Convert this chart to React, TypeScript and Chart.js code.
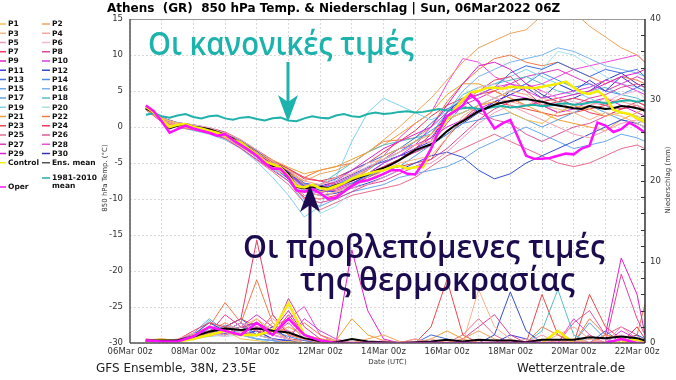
import React, { useEffect, useRef } from 'react';
import { Chart, registerables } from 'chart.js';
Chart.register(...registerables);

const TITLE = 'Athens  (GR)  850 hPa Temp. & Niederschlag | Sun, 06Mar2022 06Z';
const FOOTER_LEFT = 'GFS Ensemble, 38N, 23.5E';
const FOOTER_RIGHT = 'Wetterzentrale.de';
const X_TITLE = 'Date (UTC)';
const Y_LEFT_TITLE = '850 hPa Temp. (°C)';
const Y_RIGHT_TITLE = 'Niederschlag (mm)';
const NOTE_NORMAL = 'Οι κανονικές τιμές';
const NOTE_FORECAST_1 = 'Οι προβλεπόμενες τιμές';
const NOTE_FORECAST_2 = 'της θερμοκρασίας';

const X_TICK_HOURS = [0, 48, 96, 144, 192, 240, 288, 336, 384];
const X_TICK_LABELS = ['06Mar 00z', '08Mar 00z', '10Mar 00z', '12Mar 00z', '14Mar 00z', '16Mar 00z', '18Mar 00z', '20Mar 00z', '22Mar 00z'];
const PRECIP_MINOR_TICKS = [2, 4, 6, 8, 10, 12, 14, 16, 18, 20, 22, 24, 26, 28, 30, 32, 34, 36, 38];

// hours since 06Mar 00z
const HOURS_6H = [12, 18, 24, 30, 36, 42, 48, 54, 60, 66, 72, 78, 84, 90, 96, 102, 108, 114, 120, 126, 132, 138, 144, 150, 156, 162, 168, 174, 180, 186, 192, 198, 204, 210, 216, 222, 228, 234, 240, 246, 252, 258, 264, 270, 276, 282, 288, 294, 300, 306, 312, 318, 324, 330, 336, 342, 348, 354, 360, 366, 372, 378, 384, 390];
const HOURS_12H = [12, 24, 36, 48, 60, 72, 84, 96, 108, 120, 132, 144, 156, 168, 180, 192, 204, 216, 228, 240, 252, 264, 276, 288, 300, 312, 324, 336, 348, 360, 372, 384, 390];

const ENS_MEAN_T = [2.6, 2.0, 1.0, -0.2, 0.2, 0.4, 0.0, -0.1, -0.3, -0.7, -1.1, -1.6, -2.3, -2.9, -3.8, -5.0, -5.4, -5.5, -6.5, -8.3, -8.5, -8.4, -8.3, -8.5, -8.1, -7.8, -7.4, -7.0, -6.6, -6.1, -5.7, -5.2, -4.6, -3.9, -3.2, -2.8, -2.4, -1.6, -0.6, 0.2, 0.8, 1.5, 2.2, 2.6, 3.1, 3.4, 3.6, 3.8, 3.9, 3.7, 3.5, 3.2, 3.0, 2.8, 2.6, 2.5, 2.9, 2.7, 2.5, 2.6, 2.9, 2.8, 2.6, 2.3];
const CLIM_T = [1.7, 1.9, 1.5, 1.3, 1.6, 1.8, 1.4, 1.2, 1.5, 1.6, 1.2, 1.0, 1.3, 1.4, 1.1, 0.9, 1.2, 1.3, 0.9, 0.8, 1.2, 1.5, 1.3, 1.2, 1.6, 1.8, 1.5, 1.4, 1.8, 2.0, 1.8, 1.9, 2.1, 2.2, 2.0, 2.1, 2.3, 2.5, 2.3, 2.4, 2.6, 2.7, 2.5, 2.6, 2.8, 2.9, 2.7, 2.8, 3.0, 3.1, 2.9, 3.0, 3.2, 3.3, 3.1, 3.2, 3.4, 3.5, 3.3, 3.4, 3.6, 3.7, 3.5, 3.7];
const OPER_T = [3.0, 2.2, 0.8, -0.8, -0.3, 0.2, -0.2, -0.5, -0.8, -1.2, -1.0, -1.8, -2.5, -3.2, -4.0, -5.0, -5.8, -5.8, -7.0, -8.8, -9.0, -8.6, -9.2, -10.0, -9.8, -9.0, -8.2, -7.6, -7.4, -7.0, -6.5, -6.0, -6.0, -6.5, -6.6, -5.0, -3.0, -0.5, 1.5, 2.2, 3.0, 4.5, 3.5, 1.5, -0.2, 0.5, 1.0, -1.5, -4.0, -4.4, -4.4, -4.3, -4.0, -3.7, -3.8, -3.0, -2.6, 0.6, 0.2, -0.7, -0.3, 0.6, 0.0, -0.8];
const CONTROL_T = [2.8, 2.0, 1.0, 0.0, 0.3, 0.4, 0.0, -0.2, -0.5, -0.8, -1.2, -1.8, -2.2, -3.0, -3.8, -4.8, -5.2, -5.6, -6.8, -8.2, -8.4, -8.0, -8.5, -8.6, -8.2, -7.8, -7.2, -6.8, -6.5, -6.2, -6.0, -5.6, -5.4, -5.8, -5.6, -5.6, -3.0, -0.5, 1.0, 2.5, 3.8, 4.8, 5.0, 5.4, 5.5, 5.3, 5.6, 5.5, 5.5, 5.4, 5.6, 5.8, 6.0, 6.3, 5.5, 4.8, 4.6, 5.0, 4.2, 2.4, 2.0, 1.8, 1.2, 0.7];

const P1_T = [2.7, 1.2, 0.5, 0.2, -0.6, -1.0, -2.0, -3.5, -5.0, -6.0, -8.0, -9.0, -8.5, -7.0, -6.0, -4.0, -3.0, -2.0, -1.0, 1.0, 2.0, 3.0, 3.5, 2.0, 1.0, 0.5, 2.0, 3.0, 2.5, 1.5, 2.0, 1.5, 1.0];
const P2_T = [2.5, 0.8, 0.0, -0.3, -0.5, -1.2, -2.5, -4.0, -5.5, -6.5, -7.5, -6.5, -6.0, -5.0, -3.5, -1.8, 0.0, 2.0, 4.0, 6.5, 9.0, 11.0, 12.0, 13.0, 13.5, 15.5, 17.0, 16.0, 14.0, 12.5, 11.0, 10.0, 9.0];
const P3_T = [2.4, 1.0, 0.3, 0.0, -0.2, -1.5, -2.8, -4.2, -5.5, -7.0, -9.0, -9.5, -9.0, -8.0, -7.5, -6.0, -5.0, -4.5, -4.0, -1.5, 1.5, 3.0, 4.0, 5.0, 4.5, 3.0, 2.5, 2.0, 1.0, 2.0, 1.5, 0.5, 0.0];
const P4_T = [2.6, 1.1, 0.6, 0.1, -0.4, -0.8, -1.8, -3.2, -4.8, -6.0, -7.5, -8.0, -7.0, -6.5, -5.0, -4.5, -3.5, -2.5, -2.0, 1.0, 3.5, 5.0, 4.0, 3.5, 3.0, 4.0, 3.5, 2.5, 3.0, 4.0, 3.5, 3.0, 2.5];
const P5_T = [2.5, 0.9, 0.1, -0.2, -0.7, -1.4, -2.6, -4.0, -5.2, -7.0, -9.5, -10.0, -9.0, -8.5, -8.0, -7.0, -6.0, -5.5, -5.0, -3.5, -1.5, 0.5, 2.0, 3.0, 2.0, 1.0, 0.0, -1.0, -1.5, -0.5, 0.5, 1.0, 0.5];
const P6_T = [2.7, 1.3, 0.4, 0.3, -0.1, -0.9, -2.2, -3.6, -5.6, -6.8, -8.6, -8.0, -7.5, -6.5, -5.5, -4.5, -3.5, -2.5, -2.0, 1.0, 3.5, 5.5, 6.0, 5.0, 4.5, 5.0, 4.0, 3.5, 3.0, 3.5, 4.5, 5.0, 4.0];
const P7_T = [2.8, 1.4, 0.2, 0.0, -0.5, -1.3, -2.5, -3.8, -4.8, -5.8, -7.0, -7.5, -8.0, -7.5, -6.5, -5.5, -4.5, -3.0, -1.0, 1.5, 3.5, 5.0, 6.5, 7.0, 5.0, 3.0, 3.5, 4.0, 3.5, 3.0, 2.5, 3.5, 3.0];
const P8_T = [2.4, 0.7, 0.0, -0.4, -0.9, -1.6, -3.0, -4.5, -6.0, -7.5, -10.0, -10.5, -10.0, -9.0, -8.0, -7.5, -6.5, -5.5, -4.5, -3.0, -1.0, 1.0, 2.5, 3.5, 4.0, 3.0, 2.0, 3.0, 4.0, 4.5, 5.5, 6.0, 5.5];
const P9_T = [2.6, 1.0, 0.5, 0.2, -0.3, -1.1, -2.2, -3.5, -5.2, -6.2, -8.0, -8.5, -7.5, -6.0, -4.5, -3.0, -2.0, -1.0, 0.0, 3.0, 6.0, 8.5, 9.0, 8.0, 6.0, 5.0, 4.0, 4.5, 5.0, 6.0, 7.0, 7.5, 8.0];
const P10_T = [2.5, 0.9, 0.2, -0.1, -0.6, -1.2, -2.4, -3.8, -5.0, -6.5, -8.5, -9.0, -8.5, -7.5, -6.5, -5.0, -4.0, -2.5, 0.0, 2.0, 3.5, 4.5, 5.5, 6.0, 5.0, 4.0, 4.5, 5.0, 5.5, 6.5, 6.0, 5.0, 4.5];
const P11_T = [2.7, 1.2, 0.3, 0.0, -0.4, -1.0, -2.0, -3.4, -5.0, -6.4, -8.0, -8.8, -9.0, -8.0, -6.5, -5.0, -4.0, -3.0, -2.0, 2.0, 4.0, 2.0, 3.5, 4.5, 5.5, 4.0, 6.0, 5.0, 6.5, 5.0, 7.0, 5.5, 6.0];
const P12_T = [2.6, 1.1, 0.4, -0.2, -0.8, -1.5, -2.7, -4.1, -5.4, -7.2, -9.0, -9.5, -9.2, -8.5, -7.8, -7.0, -6.0, -5.0, -4.0, -3.5, -4.2, -6.0, -7.2, -6.5, -5.0, -4.0, -3.0, -2.0, -1.0, 0.0, 1.0, 0.5, 0.0];
const P13_T = [2.5, 1.0, 0.1, 0.1, -0.3, -1.1, -2.3, -3.7, -5.3, -6.6, -8.2, -8.0, -7.2, -6.0, -5.0, -4.0, -3.0, -1.5, 0.5, 2.5, 3.5, 4.5, 5.5, 7.5, 8.5, 8.0, 9.0, 8.0, 7.0, 8.0, 7.5, 8.0, 7.0];
const P14_T = [2.8, 1.3, 0.6, 0.3, -0.2, -0.8, -1.9, -3.3, -4.9, -6.2, -7.8, -8.5, -8.0, -7.0, -6.0, -4.5, -3.5, -2.0, -0.5, 1.0, 2.0, 3.0, 4.0, 5.0, 6.0, 7.5, 6.5, 5.5, 6.0, 5.0, 4.5, 5.5, 5.0];
const P15_T = [2.4, 0.8, 0.0, -0.3, -0.7, -1.4, -2.6, -4.3, -5.8, -7.5, -10.5, -11.0, -10.0, -9.0, -8.5, -8.0, -7.0, -6.5, -6.0, -5.5, -4.5, -3.0, -2.0, -1.0, 0.0, -1.0, -2.0, -3.0, -2.5, -2.0, -1.0, -1.5, -2.0];
const P16_T = [2.6, 1.1, 0.3, 0.0, -0.5, -1.2, -2.4, -3.9, -5.4, -6.8, -8.8, -9.0, -8.0, -7.0, -5.5, -4.5, -3.5, -2.0, -1.0, 2.0, 5.0, 7.0, 8.0, 9.0, 9.5, 10.0, 11.0, 10.5, 9.5, 8.5, 8.0, 7.5, 7.0];
const P17_T = [2.7, 1.2, 0.4, 0.1, -0.3, -1.0, -2.1, -3.6, -5.1, -6.3, -8.4, -8.8, -8.2, -7.8, -6.8, -6.0, -5.5, -4.0, -2.5, -1.0, 0.5, 1.0, 1.5, 2.0, 1.0, 0.0, 1.0, 2.0, 3.0, 2.0, 1.0, 0.5, 1.0];
const P18_T = [2.5, 0.9, 0.1, -0.2, -0.6, -1.3, -2.5, -4.0, -5.5, -7.0, -9.0, -8.0, -6.5, -5.0, -3.5, -2.5, -2.0, -1.5, -1.0, 2.0, 4.5, 5.5, 6.0, 6.5, 7.0, 6.0, 5.0, 4.5, 5.0, 5.5, 4.5, 4.0, 3.5];
const P19_T = [2.6, 1.0, 0.0, -0.5, -1.0, -1.8, -3.0, -4.8, -7.0, -9.5, -12.5, -11.0, -7.0, -2.0, 2.0, 4.0, 3.0, 2.0, 1.0, 2.0, 3.5, 5.0, 6.0, 7.0, 8.0, 7.0, 6.0, 5.0, 4.0, 3.0, 2.0, 1.5, 1.0];
const P20_T = [2.5, 1.0, 0.3, 0.0, -0.4, -1.2, -2.3, -3.9, -5.6, -7.2, -9.5, -12.0, -11.0, -9.0, -7.0, -5.0, -3.5, -2.0, 0.0, 1.5, 2.0, 3.0, 4.0, 5.0, 6.0, 8.0, 10.5, 10.0, 8.5, 7.0, 6.0, 5.5, 5.0];
const P21_T = [2.7, 1.2, 0.5, 0.2, -0.2, -0.9, -2.0, -3.4, -4.6, -5.6, -6.5, -6.0, -5.5, -4.5, -3.5, -2.5, -1.0, 0.5, 2.0, 4.5, 6.0, 6.0, 5.0, 4.0, 3.0, 2.0, 1.0, 0.5, 0.0, -0.5, 1.0, 2.0, 2.5];
const P22_T = [2.6, 1.1, 0.4, 0.0, -0.5, -1.3, -2.5, -3.8, -5.0, -6.0, -7.0, -6.0, -5.5, -5.0, -3.5, -2.0, -1.8, -1.5, 0.0, 3.5, 6.0, 8.0, 9.5, 10.0, 9.0, 8.5, 9.0, 8.0, 7.0, 6.0, 7.0, 6.5, 6.0];
const P23_T = [2.5, 0.9, 0.2, -0.1, -0.6, -1.3, -2.6, -4.1, -5.6, -7.2, -9.8, -10.0, -9.5, -8.0, -7.0, -6.0, -5.5, -5.0, -4.5, -1.5, 1.0, 3.0, 3.5, 3.0, 2.5, 2.0, 1.5, 2.0, 2.5, 3.0, 4.0, 3.5, 3.0];
const P24_T = [2.8, 1.3, 0.6, 0.3, -0.1, -0.7, -1.8, -3.2, -4.6, -5.8, -7.2, -7.5, -7.0, -6.0, -5.0, -3.5, -2.0, -0.5, 1.5, 3.0, 4.0, 4.5, 5.0, 4.0, 3.0, 3.5, 4.0, 3.0, 2.0, 1.5, 2.5, 3.0, 2.5];
const P25_T = [2.4, 0.8, 0.0, -0.4, -0.9, -1.6, -2.9, -4.6, -6.2, -8.0, -10.5, -11.5, -10.5, -9.5, -9.0, -8.5, -8.0, -7.0, -5.5, -4.0, -3.0, -2.0, -1.0, -2.0, -3.0, -4.0, -5.0, -5.5, -5.0, -4.0, -3.0, -2.5, -3.0];
const P26_T = [2.6, 1.0, 0.2, 0.0, -0.5, -1.2, -2.4, -3.9, -5.3, -6.7, -8.6, -9.0, -8.8, -8.0, -7.0, -6.0, -4.5, -3.5, -2.5, 0.5, 3.0, 2.0, 1.0, 0.5, -1.0, -2.0, -1.0, 0.0, 0.5, 1.5, 2.5, 3.0, 2.0];
const P27_T = [2.7, 1.2, 0.4, 0.1, -0.4, -1.0, -2.1, -3.5, -5.0, -6.4, -8.2, -8.5, -7.8, -6.8, -5.8, -4.5, -3.0, -2.5, -1.5, 1.5, 3.0, 4.0, 5.0, 6.0, 7.0, 7.5, 8.0, 7.0, 6.0, 5.0, 6.0, 7.0, 6.5];
const P28_T = [2.5, 0.9, 0.1, -0.1, -0.6, -1.3, -2.5, -4.0, -5.5, -7.0, -8.8, -9.2, -8.5, -7.5, -6.0, -4.0, -1.5, 0.5, 2.0, 6.0, 9.5, 9.0, 7.0, 6.0, 5.5, 6.0, 7.0, 8.0, 8.5, 9.0, 9.5, 10.0, 9.0];
const P29_T = [2.6, 1.1, 0.3, 0.0, -0.4, -1.1, -2.3, -3.7, -5.2, -6.5, -8.4, -9.0, -8.6, -7.8, -6.8, -5.5, -4.5, -3.0, -1.5, 0.0, 1.0, 2.5, 3.5, 4.5, 4.0, 3.0, 2.0, 2.5, 3.5, 4.0, 3.0, 2.0, 1.5];
const P30_T = [2.7, 1.3, 0.5, 0.2, -0.2, -0.9, -2.0, -3.4, -4.9, -6.1, -7.8, -8.2, -7.6, -6.6, -5.6, -4.8, -4.0, -3.5, -2.5, -1.0, 0.5, 2.0, 3.0, 5.0, 6.0, 4.5, 3.5, 4.0, 5.0, 6.5, 7.5, 6.0, 5.5];

const P1_P = [0.3, 0.5, 0.2, 1.0, 0.8, 1.5, 0.5, 0.3, 0, 0.2, 0, 0, 0, 0.5, 0, 0, 0, 0, 0, 0.3, 0, 0, 0, 0, 0, 0, 0, 0.5, 0, 0, 0.3, 0, 0];
const P2_P = [0.2, 0.4, 0.3, 0.5, 1.2, 2.0, 1.5, 0.8, 2.5, 1.0, 0.5, 0.3, 0, 0, 0.5, 1.0, 0.2, 0, 0, 0, 0.5, 1.5, 0.5, 0, 0, 0, 0.3, 0, 0, 1.0, 0.5, 0.3, 0];
const P3_P = [0.4, 0.3, 0.2, 0.8, 1.5, 1.0, 2.0, 3.0, 1.5, 0.5, 0, 0, 0, 0, 0, 0, 0, 0.5, 0, 0, 0, 6.6, 2.0, 0.5, 0, 0, 0, 0, 0.5, 0, 0, 0, 0];
const P4_P = [0.3, 0.2, 0.5, 1.2, 0.8, 2.5, 1.5, 1.0, 0.5, 0, 0, 0, 0.5, 0, 0, 0, 0, 0, 0.5, 0, 0, 0, 0, 0, 0.5, 0, 1.0, 2.0, 0.5, 0, 0, 0.5, 0];
const P5_P = [0.2, 0.5, 0.3, 1.0, 2.0, 1.5, 2.5, 1.5, 3.0, 1.5, 0.5, 0, 0, 0, 0, 0.3, 0, 0, 0, 0, 0, 0, 0, 0.5, 0, 1.0, 0, 0, 0, 0, 2.0, 0.5, 0];
const P6_P = [0.3, 0.4, 0.2, 0.5, 1.0, 0.8, 1.5, 2.0, 1.0, 0.5, 0, 0, 0, 0, 0, 0, 0, 0, 0, 0, 0, 0, 0, 0, 0, 0, 0, 0, 0, 0.5, 1.0, 0.5, 0];
const P7_P = [0.5, 0.3, 0.4, 1.5, 2.5, 2.0, 3.0, 12.7, 3.5, 1.0, 0.5, 0, 0, 0, 0, 0, 0, 0.5, 0, 0, 0, 0, 0, 0, 0, 0, 0, 0, 0, 0, 0, 0, 0];
const P8_P = [0.2, 0.3, 0.2, 0.8, 1.2, 3.5, 2.0, 1.5, 1.0, 5.5, 2.0, 0.5, 0, 0, 0, 0, 0, 0, 0, 0, 0.5, 2.0, 3.5, 1.0, 0, 0, 0, 0, 0, 0, 8.5, 3.0, 1.0];
const P9_P = [0.3, 0.2, 0.3, 1.0, 1.5, 1.0, 2.0, 2.5, 1.5, 4.0, 1.0, 0.3, 0, 11.5, 4.0, 0.5, 0, 0, 0, 0, 0, 0, 0, 0, 0, 0, 0, 0, 0, 1.0, 10.5, 6.0, 1.0];
const P10_P = [0.2, 0.4, 0.3, 0.6, 1.0, 1.5, 1.2, 2.0, 1.0, 0.5, 3.0, 1.5, 0.5, 0, 0, 0, 0, 0, 0, 0, 0, 0, 0, 0, 0, 0, 0, 0, 0, 0, 1.5, 0.5, 0];
const P11_P = [0.3, 0.3, 0.2, 0.5, 1.5, 2.0, 1.0, 1.5, 0.5, 0.3, 0, 0, 0, 0, 0, 0, 0, 0, 0, 0, 0, 0, 0, 1.0, 0.5, 0, 0, 0, 0, 0, 0, 0, 0];
const P12_P = [0.2, 0.3, 0.4, 1.0, 2.5, 1.5, 2.5, 1.0, 2.0, 0.5, 0, 0, 0, 0, 0, 0, 0, 0, 0, 0, 0, 0, 1.0, 6.3, 1.5, 0, 0, 0, 0, 0, 0, 1.0, 0.5];
const P13_P = [0.4, 0.2, 0.3, 0.8, 1.0, 2.0, 3.0, 1.5, 0.5, 0.3, 0, 0, 0, 0, 0, 0, 0, 0, 1.0, 0.5, 0, 0, 0, 0, 0, 0, 0, 0, 0, 1.5, 0, 0, 0];
const P14_P = [0.3, 0.4, 0.2, 0.5, 1.8, 1.0, 2.0, 2.5, 1.5, 0.8, 0.3, 0, 0, 0, 0, 0, 0, 0, 0, 0, 0, 0, 0, 0, 0, 0, 0, 0, 0, 0, 0, 0, 0];
const P15_P = [0.2, 0.3, 0.3, 1.2, 3.0, 1.5, 1.0, 0.5, 0.3, 0, 0, 0, 0, 0, 0, 0, 0, 0, 0, 0, 0, 0, 0, 0, 0, 0, 0, 0, 0.5, 0, 0, 0, 0];
const P16_P = [0.3, 0.2, 0.4, 1.0, 1.2, 2.2, 1.5, 1.0, 0.5, 0.2, 0, 0, 0, 0, 0, 0, 0, 0, 0, 0, 0, 0, 0, 0, 0, 0, 0, 0, 0, 0, 0, 0, 0];
const P17_P = [0.2, 0.4, 0.2, 0.6, 1.0, 1.5, 2.0, 1.0, 0.5, 0, 0, 0, 0, 0, 0, 0, 0, 0, 0, 0, 0, 0, 0, 0, 0, 0, 0, 0, 2.5, 0.5, 0, 0, 0];
const P18_P = [0.3, 0.3, 0.3, 0.8, 2.8, 1.0, 1.5, 1.0, 0.5, 0.3, 0, 0, 0, 0, 0, 0, 0, 0, 0, 0, 0, 0, 0, 0, 0, 1.5, 6.6, 1.0, 0, 0, 0, 0, 0];
const P19_P = [0.2, 0.2, 0.2, 0.5, 0.8, 1.0, 1.5, 0.5, 0.3, 0, 0, 0, 0, 0, 0, 0, 0, 0, 0, 0, 0, 0, 0, 0, 0, 0, 0, 0, 0, 0, 0, 0, 0];
const P20_P = [0.3, 0.3, 0.2, 0.6, 1.2, 0.8, 1.0, 0.5, 0, 0, 0, 0, 0, 0, 0, 0, 0, 0, 0, 0, 0, 0, 0, 0, 0, 0, 0, 0, 0, 0, 0, 0, 0];
const P21_P = [0.4, 0.5, 0.3, 1.0, 1.5, 2.5, 1.5, 3.0, 1.0, 2.0, 1.0, 0.5, 0.3, 3.0, 1.0, 0.3, 0, 0, 0.5, 1.5, 0.5, 0, 0, 0, 0, 0, 0, 0, 0, 0, 0, 0, 0];
const P22_P = [0.3, 0.4, 0.4, 1.2, 2.0, 5.0, 2.5, 7.8, 2.5, 1.0, 2.5, 1.0, 0.3, 0, 0, 0, 0, 0, 0, 0, 0, 0, 0, 0, 0, 2.0, 1.0, 0, 3.0, 1.0, 0.5, 1.0, 4.8];
const P23_P = [0.2, 0.3, 0.3, 0.8, 1.0, 2.0, 3.0, 2.0, 1.5, 0.5, 0.3, 0, 0, 0, 0, 0, 0, 0, 2.0, 7.8, 1.0, 0, 0, 0, 0, 6.0, 1.0, 0, 6.0, 2.0, 0.5, 0, 0];
const P24_P = [0.3, 0.2, 0.2, 1.0, 1.5, 1.5, 2.0, 2.5, 1.0, 3.5, 1.0, 0.5, 0, 0, 0, 0, 0, 0, 0, 0, 0, 0, 0, 0, 0, 0, 0, 0, 0, 0, 0, 2.0, 0.5];
const P25_P = [0.2, 0.4, 0.3, 0.8, 1.2, 2.2, 1.5, 1.0, 3.5, 1.0, 0.5, 0, 0, 0, 0, 0, 0, 0, 0, 0, 1.0, 3.0, 1.0, 0, 0, 0, 0, 0, 1.0, 0, 0, 0, 0];
const P26_P = [0.3, 0.3, 0.2, 0.5, 1.0, 1.5, 2.5, 1.5, 1.0, 2.5, 0.5, 0, 0, 0, 0, 0, 0, 0, 0, 0, 0, 0, 0, 0, 0, 0, 0, 2.5, 4.0, 1.0, 2.0, 1.0, 0];
const P27_P = [0.2, 0.2, 0.3, 0.6, 1.5, 1.0, 2.0, 3.5, 2.0, 1.5, 0.5, 0, 0, 0, 0, 0, 0, 0, 0, 0, 0, 0, 0, 0, 0, 0, 0, 0, 0, 0, 0, 0, 0];
const P28_P = [0.3, 0.3, 0.3, 1.0, 1.0, 1.8, 1.5, 1.0, 2.0, 3.0, 4.5, 1.0, 0, 0, 0, 0, 0, 0, 0, 0, 0, 0, 0, 0, 0, 0, 0, 3.0, 1.0, 0, 0, 0, 0];
const P29_P = [0.2, 0.3, 0.2, 0.7, 1.2, 2.0, 1.5, 2.0, 1.0, 0.5, 0, 0, 0, 0, 0, 0, 0, 0, 0, 0, 0, 0, 0, 0, 0, 0, 0, 0, 0, 0, 0, 0, 0];
const P30_P = [0.3, 0.2, 0.3, 0.5, 1.0, 1.2, 1.0, 0.5, 0.3, 0, 0, 0, 0, 0, 0, 0, 0, 0, 0, 0, 0, 0, 0, 0, 0, 0, 0, 0, 0, 0, 0, 0, 0];
const CONTROL_P = [0.2, 0.3, 0.2, 0.5, 1.0, 1.5, 1.0, 1.0, 1.5, 4.9, 1.0, 0.3, 0, 0, 0, 0, 0, 0, 0, 0, 0, 0, 0, 0, 0, 0, 1.5, 0, 0, 0, 0, 0.5, 0];
const OPER_P = [0.3, 0.2, 0.2, 0.8, 2.0, 1.5, 1.0, 2.5, 1.0, 3.0, 1.0, 0.3, 0, 0, 0, 0, 0, 0, 0, 0, 0, 0, 0, 0, 0, 0, 0, 0, 0, 0, 0.5, 0, 0];
const ENS_MEAN_P = [0.3, 0.3, 0.3, 0.8, 1.4, 1.8, 1.6, 1.8, 1.5, 1.3, 0.6, 0.2, 0.1, 0.5, 0.2, 0.1, 0, 0.1, 0.2, 0.4, 0.2, 0.4, 0.3, 0.3, 0.1, 0.4, 0.4, 0.4, 0.7, 0.6, 0.8, 0.6, 0.3];

const MEMBER_NAMES = ['P1', 'P2', 'P3', 'P4', 'P5', 'P6', 'P7', 'P8', 'P9', 'P10', 'P11', 'P12', 'P13', 'P14', 'P15', 'P16', 'P17', 'P18', 'P19', 'P20', 'P21', 'P22', 'P23', 'P24', 'P25', 'P26', 'P27', 'P28', 'P29', 'P30'];
const MEMBER_COLORS = ['#f2c14e', '#f0a35a', '#f7b28a', '#f4a5a0', '#f29ab5', '#f2b8d8', '#ee3d6a', '#e0449c', '#e21fc6', '#d43ee0', '#3b3bdb', '#2f4fd0', '#3f6fe0', '#4a8ef0', '#6aa6ee', '#7ab4ec', '#5aa0e0', '#56bfc4', '#7fd0ee', '#a4e2e6', '#f0a030', '#f07a48', '#ee4848', '#f0385a', '#e86a8c', '#e0589e', '#e038c0', '#f04ad8', '#d51fd6', '#3434b4'];
const MEMBER_T = [P1_T, P2_T, P3_T, P4_T, P5_T, P6_T, P7_T, P8_T, P9_T, P10_T, P11_T, P12_T, P13_T, P14_T, P15_T, P16_T, P17_T, P18_T, P19_T, P20_T, P21_T, P22_T, P23_T, P24_T, P25_T, P26_T, P27_T, P28_T, P29_T, P30_T];
const MEMBER_P = [P1_P, P2_P, P3_P, P4_P, P5_P, P6_P, P7_P, P8_P, P9_P, P10_P, P11_P, P12_P, P13_P, P14_P, P15_P, P16_P, P17_P, P18_P, P19_P, P20_P, P21_P, P22_P, P23_P, P24_P, P25_P, P26_P, P27_P, P28_P, P29_P, P30_P];

const CONTROL_COLOR = '#f5ee00';
const MEAN_COLOR = '#000000';
const CLIM_COLOR = '#1fb2aa';
const OPER_COLOR = '#ff10ff';
const NOTE_TEAL = '#1db3ad';
const NOTE_DARK = '#1d0b4f';

const pts = (hours: number[], vals: number[]) => vals.map((v, i) => ({ x: hours[i], y: v }));

function line(ctx: CanvasRenderingContext2D, x1: number, y1: number, x2: number, y2: number) {
  ctx.beginPath();
  ctx.moveTo(x1, y1);
  ctx.lineTo(x2, y2);
  ctx.stroke();
}

function arrow(ctx: CanvasRenderingContext2D, x: number, yTail: number, yTip: number, color: string) {
  const dir = Math.sign(yTip - yTail);
  const headLen = 27, halfW = 10, notch = 7;
  ctx.strokeStyle = color;
  ctx.lineWidth = 3;
  line(ctx, x, yTail, x, yTip - dir * (headLen - notch));
  ctx.fillStyle = color;
  ctx.beginPath();
  ctx.moveTo(x, yTip);
  ctx.lineTo(x - halfW, yTip - dir * headLen);
  ctx.lineTo(x, yTip - dir * (headLen - notch));
  ctx.lineTo(x + halfW, yTip - dir * headLen);
  ctx.closePath();
  ctx.fill();
}

const overlay = {
  id: 'overlay',
  afterDatasetsDraw(chart: any) {
    const ctx: CanvasRenderingContext2D = chart.ctx;
    const a = chart.chartArea;
    const yP = chart.scales.yP;
    ctx.save();
    ctx.strokeStyle = '#999';
    ctx.lineWidth = 1;
    line(ctx, a.left, a.top + 0.5, a.right, a.top + 0.5);
    ctx.strokeStyle = '#555';
    ctx.lineWidth = 1.5;
    line(ctx, a.left, a.top, a.left, a.bottom);
    line(ctx, a.left, a.bottom, a.right, a.bottom);
    ctx.strokeStyle = '#333';
    line(ctx, a.right, a.top, a.right, a.bottom);
    ctx.lineWidth = 1;
    for (const v of PRECIP_MINOR_TICKS) {
      const y = Math.round(yP.getPixelForValue(v)) + 0.5;
      line(ctx, a.right - 4, y, a.right, y);
    }
    ctx.restore();
  },
  afterDraw(chart: any) {
    const ctx: CanvasRenderingContext2D = chart.ctx;
    const a = chart.chartArea;
    ctx.save();
    ctx.textAlign = 'left';
    ctx.textBaseline = 'alphabetic';
    ctx.fillStyle = '#000';
    ctx.font = 'bold 12px "DejaVu Sans"';
    ctx.fillText(TITLE, 107, 12);

    ctx.font = '12px "DejaVu Sans"';
    ctx.fillStyle = '#222';
    ctx.fillText(FOOTER_LEFT, 96, 372);
    ctx.fillText(FOOTER_RIGHT, 517, 372);

    ctx.font = '7px "DejaVu Sans"';
    ctx.fillStyle = '#333';
    ctx.textAlign = 'center';
    ctx.fillText(X_TITLE, (a.left + a.right) / 2, 364);
    ctx.textBaseline = 'middle';
    ctx.save();
    ctx.translate(105, 178);
    ctx.rotate(-Math.PI / 2);
    ctx.fillText(Y_LEFT_TITLE, 0, 0);
    ctx.restore();
    ctx.save();
    ctx.translate(668, 180);
    ctx.rotate(-Math.PI / 2);
    ctx.fillText(Y_RIGHT_TITLE, 0, 0);
    ctx.restore();

    // legend
    ctx.textAlign = 'left';
    ctx.textBaseline = 'middle';
    ctx.font = 'bold 7.5px "DejaVu Sans"';
    const rowY = (k: number) => 24 + k * 9.25;
    const entry = (x: number, y: number, color: string, label: string) => {
      ctx.strokeStyle = color;
      ctx.lineWidth = 1.5;
      line(ctx, x, y, x + 8, y);
      ctx.fillStyle = '#111';
      ctx.fillText(label, x + 10, y + 0.5);
    };
    for (let k = 0; k < 15; k++) {
      entry(-2, rowY(k), MEMBER_COLORS[2 * k], MEMBER_NAMES[2 * k]);
      entry(42, rowY(k), MEMBER_COLORS[2 * k + 1], MEMBER_NAMES[2 * k + 1]);
    }
    entry(-2, rowY(15), CONTROL_COLOR, 'Control');
    entry(42, rowY(15), '#555', 'Ens. mean');
    entry(42, 178, CLIM_COLOR, '1981-2010');
    ctx.fillText('mean', 52, 186.5);
    entry(-2, 187, OPER_COLOR, 'Oper');

    // annotations
    ctx.textBaseline = 'alphabetic';
    ctx.font = '600 32px "Open Sans"';
    ctx.fillStyle = NOTE_TEAL;
    ctx.fillText(NOTE_NORMAL, 148, 55, 266);
    arrow(ctx, 288, 62, 122, NOTE_TEAL);
    ctx.fillStyle = NOTE_DARK;
    ctx.fillText(NOTE_FORECAST_1, 243, 258, 362);
    ctx.fillText(NOTE_FORECAST_2, 300, 291, 275);
    arrow(ctx, 310, 238, 185, NOTE_DARK);
    ctx.restore();
  },
};

export default function App() {
  const ref = useRef<HTMLCanvasElement>(null);
  useEffect(() => {
    const datasets: any[] = [];
    const add = (data: any[], color: string, width: number, axis: string) =>
      datasets.push({ data, borderColor: color, borderWidth: width, yAxisID: axis, pointRadius: 0, tension: 0, fill: false });
    add(pts(HOURS_6H, OPER_T), OPER_COLOR, 2.5, 'yT');
    add(pts(HOURS_6H, CONTROL_T), CONTROL_COLOR, 2.5, 'yT');
    add(pts(HOURS_6H, ENS_MEAN_T), MEAN_COLOR, 2, 'yT');
    add(pts(HOURS_6H, CLIM_T), CLIM_COLOR, 2, 'yT');
    add(pts(HOURS_12H, OPER_P), OPER_COLOR, 2.5, 'yP');
    add(pts(HOURS_12H, ENS_MEAN_P), MEAN_COLOR, 2, 'yP');
    add(pts(HOURS_12H, CONTROL_P), CONTROL_COLOR, 2.5, 'yP');
    for (let i = 0; i < MEMBER_T.length; i++) add(pts(HOURS_12H, MEMBER_T[i]), MEMBER_COLORS[i], 1, 'yT');
    for (let i = 0; i < MEMBER_P.length; i++) add(pts(HOURS_12H, MEMBER_P[i]), MEMBER_COLORS[i], 1, 'yP');

    const tickFont = { family: 'DejaVu Sans', size: 8.5 };
    const chart = new Chart(ref.current as HTMLCanvasElement, {
      type: 'line',
      data: { datasets },
      plugins: [overlay],
      options: {
        animation: false,
        responsive: false,
        devicePixelRatio: 1,
        layout: { padding: { top: 19, left: 0, right: 0, bottom: 0 } },
        plugins: { legend: { display: false }, tooltip: { enabled: false }, title: { display: false } },
        scales: {
          x: {
            type: 'linear',
            min: 0,
            max: 390,
            afterFit: (s: any) => { s.height = 37; },
            ticks: {
              stepSize: 24,
              includeBounds: false,
              autoSkip: false,
              maxRotation: 0,
              minRotation: 0,
              padding: 4,
              color: '#333',
              font: tickFont,
              callback: (v: any) => { const i = X_TICK_HOURS.indexOf(Number(v)); return i >= 0 ? X_TICK_LABELS[i] : ''; },
            },
            grid: { color: '#d9d9d9', lineWidth: 1, drawTicks: false },
            border: { display: false, dash: [2, 2] },
          },
          yT: {
            type: 'linear',
            position: 'left',
            min: -30,
            max: 15,
            afterFit: (s: any) => { s.width = 130; },
            ticks: { stepSize: 5, padding: 7, color: '#333', font: tickFont },
            grid: { color: '#d9d9d9', lineWidth: 1, drawTicks: false },
            border: { display: false, dash: [2, 2] },
          },
          yP: {
            type: 'linear',
            position: 'right',
            min: 0,
            max: 40,
            afterFit: (s: any) => { s.width = 31; },
            ticks: { stepSize: 10, padding: 5, color: '#333', font: tickFont },
            grid: { drawOnChartArea: false, drawTicks: false },
            border: { display: false },
          },
        },
      },
    } as any);
    return () => chart.destroy();
  }, []);
  return (
    <div style={{ position: 'fixed', left: 0, top: 0, width: 676, height: 380, background: '#fff' }}>
      <canvas ref={ref} width={676} height={380} style={{ display: 'block' }} />
    </div>
  );
}
